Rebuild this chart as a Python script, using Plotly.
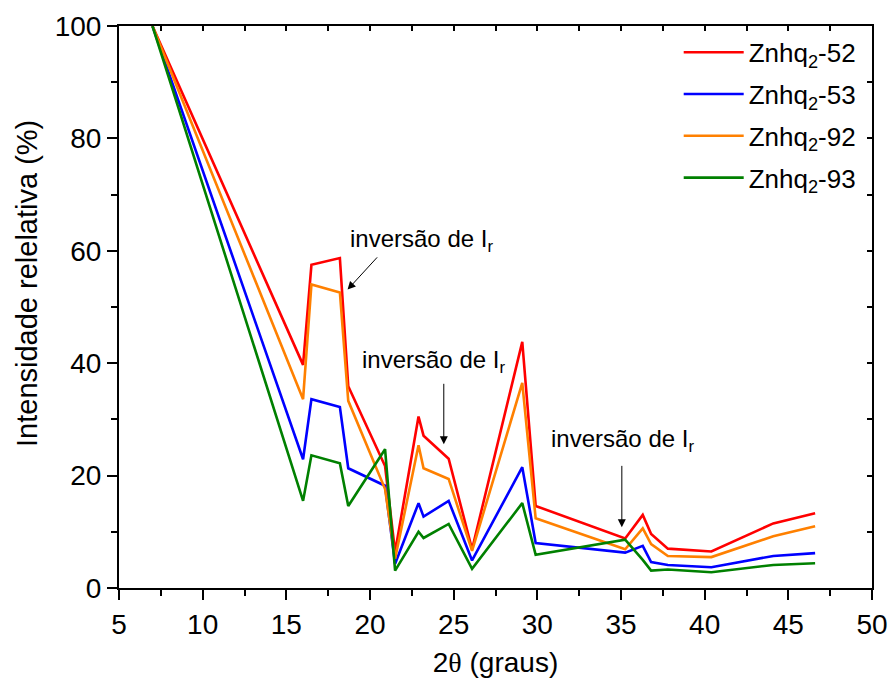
import plotly.graph_objects as go

# ---- data ----
two_theta = [7, 16.0, 16.5, 18.2, 18.7, 20.9, 21.5, 22.9, 23.2, 24.7, 26.1,
             29.1, 29.9, 35.25, 36.3, 36.8, 37.8, 40.4, 44.1, 46.6]
znhq_52 = [100, 39.7, 57.5, 58.7, 35.9, 21.7, 6.4, 30.5, 27.1, 23.0, 6.9,
           43.8, 14.6, 8.8, 13.0, 9.6, 7.0, 6.5, 11.5, 13.3]
znhq_53 = [100, 22.9, 33.6, 32.2, 21.3, 18.2, 4.3, 15.1, 12.7, 15.5, 4.9,
           21.5, 8.0, 6.3, 7.5, 4.6, 4.1, 3.7, 5.7, 6.2]
znhq_92 = [100, 33.6, 54.0, 52.6, 33.3, 17.6, 5.2, 25.4, 21.3, 19.4, 6.6,
           36.5, 12.4, 6.9, 10.6, 7.8, 5.7, 5.5, 9.2, 11.0]
znhq_93 = [100, 15.5, 23.6, 22.2, 14.6, 24.7, 3.1, 10.0, 8.9, 11.4, 3.4,
           15.1, 5.9, 8.6, 5.0, 3.1, 3.3, 2.8, 4.1, 4.4]

series_names = ["Znhq<sub>2</sub>-52", "Znhq<sub>2</sub>-53",
                "Znhq<sub>2</sub>-92", "Znhq<sub>2</sub>-93"]
series_values = [znhq_52, znhq_53, znhq_92, znhq_93]
series_colors = ["#FF0000", "#0000FF", "#FF8000", "#008000"]

x_title = "2<span style='font-family:Liberation Serif'>θ</span> (graus)"
y_title = "Intensidade relelativa (%)"

# annotations: arrow tips / tails and label positions (data coordinates)
annot_label = "inversão de I<sub>r</sub>"
arrows = [
    (18.66, 53.1, 20.51, 59.1),
    (24.41, 25.6, 24.41, 36.6),
    (35.05, 10.8, 35.05, 22.0),
]
label_pos = [(18.7, 61.8), (19.4, 40.3), (30.72, 26.3)]

FONT = "Arial, Liberation Sans, sans-serif"

fig = go.Figure()
for i, (name, vals, col) in enumerate(zip(series_names, series_values, series_colors)):
    fig.add_trace(go.Scatter(
        x=two_theta, y=vals, mode="lines", name=name,
        line=dict(color=col, width=2.6), legendgroup=f"g{i}",
    ))

# dummy trace to activate mirrored (inside tick) axes
fig.add_trace(go.Scatter(x=[None], y=[None], xaxis="x2", yaxis="y2",
                         showlegend=False, hoverinfo="skip"))

for (tx, ty, ax_, ay_) in arrows:
    fig.add_annotation(x=tx, y=ty, ax=ax_, ay=ay_, xref="x", yref="y",
                       axref="x", ayref="y", text="", showarrow=True,
                       arrowhead=2, arrowsize=1.6, arrowwidth=1, arrowcolor="black")
for (lx, ly) in label_pos:
    fig.add_annotation(x=lx, y=ly, xref="x", yref="y", text=annot_label,
                       showarrow=False, xanchor="left", yanchor="middle",
                       font=dict(family=FONT, size=24, color="black"))

# y-axis title (placed slightly above plot centre, as in the reference)
fig.add_annotation(x=0, y=0.541, xref="paper", yref="paper", xshift=-92,
                   text=y_title, textangle=-90, showarrow=False,
                   xanchor="center", yanchor="middle",
                   font=dict(family=FONT, size=29, color="black"))

axis_common = dict(showline=True, linecolor="black", linewidth=2, mirror=True,
                   showgrid=False, zeroline=False, ticks="outside", ticklen=10,
                   tickwidth=2, tickcolor="black", automargin=False,
                   tickfont=dict(family=FONT, size=28, color="black"))

fig.update_layout(
    width=891, height=678,
    margin=dict(l=119, r=19, t=26, b=90),
    plot_bgcolor="white", paper_bgcolor="white",
    font=dict(family=FONT, color="black"),
    xaxis=dict(range=[5, 50], dtick=5, tick0=5,
               minor=dict(dtick=2.5, ticks="outside", ticklen=6, tickwidth=2, tickcolor="black"),
               title=dict(text=x_title, font=dict(family=FONT, size=28), standoff=22),
               **axis_common),
    yaxis=dict(range=[0, 100], dtick=20, tick0=0,
               minor=dict(dtick=10, ticks="outside", ticklen=6, tickwidth=2, tickcolor="black"),
               **axis_common),
    xaxis2=dict(range=[5, 50], overlaying="x", side="top", anchor="y",
                showticklabels=False, ticks="inside", ticklen=5, tickwidth=1.5,
                tickcolor="black", dtick=2.5, tick0=5, showgrid=False, zeroline=False,
                showline=False, automargin=False),
    yaxis2=dict(range=[0, 100], overlaying="y", side="right", anchor="x",
                showticklabels=False, ticks="inside", ticklen=5, tickwidth=1.5,
                tickcolor="black", dtick=10, tick0=0, showgrid=False, zeroline=False,
                showline=False, automargin=False),
    legend=dict(x=0.985, y=0.995, xanchor="right", yanchor="top",
                font=dict(family=FONT, size=26, color="black"),
                bgcolor="rgba(0,0,0,0)", itemwidth=60, tracegroupgap=5,
                borderwidth=0),
    showlegend=True,
)

fig.write_html("out.html")
